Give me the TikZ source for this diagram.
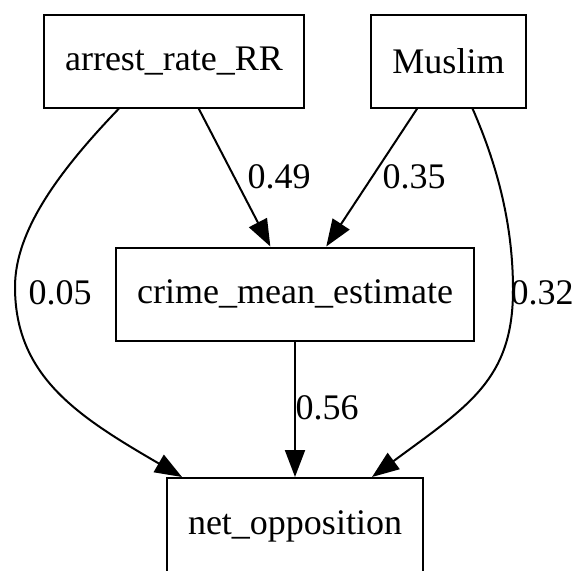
\documentclass[tikz,border=0pt]{standalone}
\usepackage{fontspec}
\setmainfont{Liberation Serif}
\usetikzlibrary{arrows.meta}
\tikzset{
  var/.style={draw, line width=2pt, inner xsep=21pt, minimum height=93pt,
    font=\fontsize{36}{43}\selectfont},
  coef/.style={inner sep=0pt, font=\fontsize{36}{43}\selectfont},
  link/.style={line width=2pt, -{Triangle[length=27pt,width=20pt]}}
}
\begin{document}
\begin{tikzpicture}[x=1pt,y=-1pt]
      \useasboundingbox (0,0) rectangle (572,570);
      \draw
        (174,61) node[var] (arrest){arrest\_rate\_RR}
        (448.5,61) node[var] (muslim){Muslim}
        (295,294) node[var] (crime){crime\_mean\_estimate}
        (295,526) node[var, minimum height=96pt] (net){net\_opposition};
      \draw
        (279,177) node[coef] (c49){0.49}
        (414,177) node[coef] (c35){0.35}
        (60,293) node[coef] (c05){0.05}
        (542,293) node[coef] (c32){0.32}
        (327,408) node[coef] (c56){0.56};
      \coordinate (lbend) at (15,287);
      \coordinate (rbend) at (513,290);
      \begin{scope}[link]
        \draw (arrest) to (crime);
        \draw (muslim) to (crime);
        \draw (crime) to (net);
        \draw ([xshift=-55pt]arrest.south) .. controls (60,170) and (15,230) .. (lbend)
          .. controls (15,377) and (79,417) .. ([xshift=-113pt]net.north);
        \draw ([xshift=24pt]muslim.south) .. controls (495,160) and (513,220) .. (rbend)
          .. controls (513,380) and (468,406) .. ([xshift=77pt]net.north);
      \end{scope}
    \end{tikzpicture}
\end{document}
